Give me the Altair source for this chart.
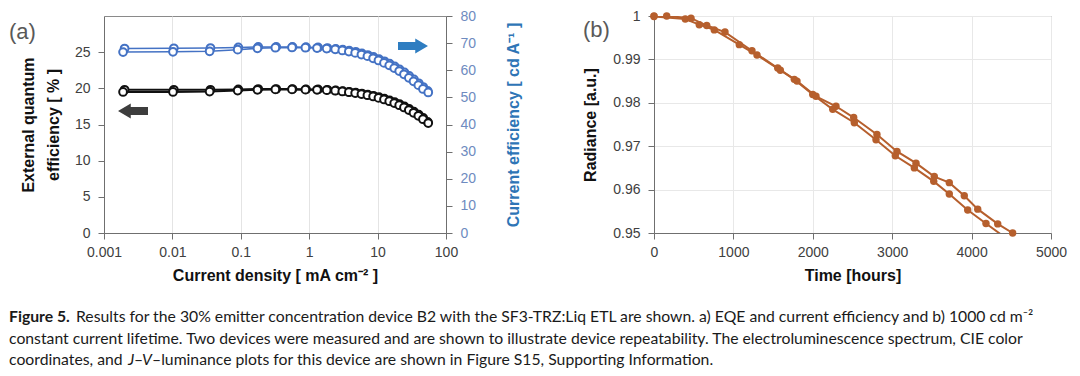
import altair as alt
import pandas as pd

# ---------------- Panel (a): EQE / current efficiency vs current density ----------------
J_DEV1 = [0.002, 0.0105, 0.036, 0.092, 0.18, 0.33, 0.57, 0.9, 1.35, 1.85, 2.45, 3.1, 3.85, 4.8,
          5.9, 7.2, 8.7, 10.5, 12.6, 15.0, 17.8, 21.0, 24.7, 29.0, 34.0, 40.0, 46.5, 54.0]
J_DEV2 = [0.0019, 0.0102, 0.035, 0.09, 0.175, 0.32, 0.56, 0.88, 1.3, 1.8, 2.4, 3.05, 3.8, 4.7,
          5.8, 7.1, 8.6, 10.3, 12.4, 14.8, 17.5, 20.7, 24.3, 28.6, 33.5, 39.4, 46.0, 55.0]
EQE_DEV1 = [19.8, 19.8, 19.8, 19.85, 19.9, 19.9, 19.9, 19.85, 19.85, 19.8, 19.72, 19.62, 19.52, 19.4,
            19.28, 19.13, 18.97, 18.78, 18.57, 18.33, 18.08, 17.8, 17.5, 17.15, 16.78, 16.35, 15.9, 15.35]
EQE_DEV2 = [19.5, 19.5, 19.55, 19.7, 19.8, 19.85, 19.85, 19.82, 19.8, 19.75, 19.67, 19.57, 19.46, 19.34,
            19.2, 19.05, 18.88, 18.68, 18.46, 18.22, 17.96, 17.67, 17.36, 17.0, 16.62, 16.2, 15.73, 15.2]
CE_DEV1 = [68.0, 68.1, 68.2, 68.4, 68.6, 68.6, 68.6, 68.5, 68.4, 68.2, 67.9, 67.6, 67.2, 66.8,
           66.2, 65.6, 64.9, 64.1, 63.3, 62.4, 61.4, 60.3, 59.2, 57.9, 56.6, 55.2, 53.8, 52.4]
CE_DEV2 = [66.7, 66.8, 67.0, 67.6, 68.1, 68.3, 68.4, 68.3, 68.2, 68.0, 67.7, 67.3, 66.9, 66.4,
           65.8, 65.2, 64.4, 63.6, 62.7, 61.8, 60.8, 59.7, 58.5, 57.2, 55.9, 54.5, 53.1, 51.8]

X_TICKS_A = [0.001, 0.01, 0.1, 1, 10, 100]
EQE_TICKS = [0, 5, 10, 15, 20, 25]
CE_TICKS = [0, 10, 20, 30, 40, 50, 60, 70, 80]

# ---------------- Panel (b): lifetime ----------------
T_DEV_A = [0, 160, 466, 664, 894, 1234, 1558, 1801, 2040, 2292, 2515, 2808, 3060, 3300, 3530,
           3719, 3908, 4077, 4329, 4517]
R_DEV_A = [1.0, 1.0, 0.9995, 0.9978, 0.9963, 0.9920, 0.9880, 0.9850, 0.9815, 0.9792, 0.9766, 0.9727,
           0.9688, 0.9661, 0.9630, 0.9616, 0.9586, 0.9555, 0.9521, 0.9500]
T_DEV_B = [0, 394, 570, 759, 1074, 1297, 1591, 1767, 1999, 2251, 2523, 2796, 3039, 3279, 3523,
           3719, 3951, 4181, 4420]
R_DEV_B = [0.9999, 0.9993, 0.9980, 0.9968, 0.9934, 0.9910, 0.9875, 0.9854, 0.9819, 0.9785, 0.9754,
           0.9715, 0.9678, 0.9650, 0.9619, 0.9590, 0.9553, 0.9522, 0.9490]
T_TICKS = [0, 1000, 2000, 3000, 4000, 5000]
R_TICKS = [0.95, 0.96, 0.97, 0.98, 0.99, 1.0]

FONT = "Liberation Sans"
CAP_FONT = "Lato"
BLACK = "#111111"
BLUE = "#4472C4"
BROWN = "#B65F2D"
H = 217

dfa = pd.concat([
    pd.DataFrame({"J": J_DEV1, "EQE": EQE_DEV1, "CE": CE_DEV1, "device": "Device 1"}),
    pd.DataFrame({"J": J_DEV2, "EQE": EQE_DEV2, "CE": CE_DEV2, "device": "Device 2"}),
], ignore_index=True)

dfb = pd.concat([
    pd.DataFrame({"t": T_DEV_A, "r": R_DEV_A, "device": "Device A"}),
    pd.DataFrame({"t": T_DEV_B, "r": R_DEV_B, "device": "Device B"}),
], ignore_index=True)

one = alt.Data(values=[{"k": 1}])

xa = alt.X("J:Q", scale=alt.Scale(type="log", domain=[0.001, 100]),
           axis=alt.Axis(values=X_TICKS_A, format="~g", title="Current density [ mA cm⁻² ]",
                         grid=True, gridColor="#e4e4e4", labelPadding=6, titlePadding=8,
                         labelFlush=False))
y_eqe = alt.Y("EQE:Q", scale=alt.Scale(domain=[0, 30], nice=False),
              axis=alt.Axis(values=EQE_TICKS, grid=False, orient="left",
                            title=["External quantum", "efficiency [ % ]"],
                            titleLineHeight=25, titlePadding=13))
y_ce = alt.Y("CE:Q", scale=alt.Scale(domain=[0, 80], nice=False),
             axis=alt.Axis(values=CE_TICKS, grid=False, orient="right",
                           title="Current efficiency [ cd A⁻¹ ]", titleColor="#2E75B6",
                           labelColor="#6E8BC0", titleAngle=270, titlePadding=46))

base_a = alt.Chart(dfa)
eqe_line = base_a.mark_line(color=BLACK, strokeWidth=2).encode(x=xa, y=y_eqe, detail="device:N")
eqe_pts = base_a.mark_circle(fill="white", stroke=BLACK, strokeWidth=2, size=60, opacity=1).encode(
    x=xa, y=y_eqe, detail="device:N")
ce_line = base_a.mark_line(color=BLUE, strokeWidth=1.5).encode(x=xa, y=y_ce, detail="device:N")
ce_pts = base_a.mark_circle(fill="white", stroke=BLUE, strokeWidth=2, size=60, opacity=1).encode(
    x=xa, y=y_ce, detail="device:N")

LEFT_ARROW = "M1,-0.27L-0.15,-0.27L-0.15,-0.5L-1,0L-0.15,0.5L-0.15,0.27L1,0.27Z"
RIGHT_ARROW = "M-1,-0.27L0.15,-0.27L0.15,-0.5L1,0L0.15,0.5L0.15,0.27L-1,0.27Z"
arrow_l = alt.Chart(one).mark_point(shape=LEFT_ARROW, filled=True, size=900, color="#3d3d3d",
                                    opacity=1).encode(x=alt.value(29), y=alt.value(95))
arrow_r = alt.Chart(one).mark_point(shape=RIGHT_ARROW, filled=True, size=900, color="#2E7DC1",
                                    opacity=1).encode(x=alt.value(309), y=alt.value(30))
label_a = alt.Chart(one).mark_text(text="(a)", font=FONT, fontSize=22, color="#595959",
                                   align="left", baseline="middle").encode(
    x=alt.value(-95), y=alt.value(16))

# ---------------- Caption (placed relative to panel (a)'s plot origin) ----------------
CAP_SIZE = 15.75
CAP_COLOR = "#1a1a1a"


def seg(text, x, y, weight="normal", style="normal"):
    return alt.Chart(one).mark_text(text=text, font=CAP_FONT, fontSize=CAP_SIZE, color=CAP_COLOR,
                                    fontWeight=weight, fontStyle=style, align="left",
                                    baseline="middle").encode(x=alt.value(x), y=alt.value(y))


CY1, CY2, CY3 = 301, 322.5, 344
caption = [
    seg("Figure 5.", -95, CY1, weight="bold"),
    seg("Results for the 30% emitter concentration device B2 with the SF3-TRZ:Liq ETL are shown. "
        "a) EQE and current efficiency and b) 1000 cd m⁻²", -28, CY1),
    seg("constant current lifetime. Two devices were measured and are shown to illustrate device "
        "repeatability. The electroluminescence spectrum, CIE color", -95, CY2),
    seg("coordinates, and", -95, CY3),
    seg("J", 24, CY3, style="italic"),
    seg("–", 30, CY3),
    seg("V", 38, CY3, style="italic"),
    seg("–luminance plots for this device are shown in Figure S15, Supporting Information.", 48, CY3),
]

panel_a = alt.layer(
    alt.layer(eqe_line, eqe_pts),
    alt.layer(ce_line, ce_pts),
    arrow_l, arrow_r, label_a, *caption,
).resolve_scale(y="independent").properties(width=342, height=H)

xb = alt.X("t:Q", scale=alt.Scale(domain=[0, 5000], nice=False),
           axis=alt.Axis(values=T_TICKS, format="d", title="Time [hours]", grid=True,
                         gridColor="#e8e8e8", labelPadding=6, titlePadding=8, labelFlush=False))
yb = alt.Y("r:Q", scale=alt.Scale(domain=[0.95, 1.0], nice=False, zero=False),
           axis=alt.Axis(values=R_TICKS, format="~g", title="Radiance [a.u.]", grid=True,
                         gridColor="#e8e8e8", titlePadding=14))
base_b = alt.Chart(dfb)
life_line = base_b.mark_line(color=BROWN, strokeWidth=2, clip=True).encode(x=xb, y=yb, detail="device:N")
life_pts = base_b.mark_circle(color=BROWN, size=55, opacity=1).encode(
    x=xb, y=yb, detail="device:N").transform_filter("datum.r >= 0.95")
label_b = alt.Chart(one).mark_text(text="(b)", font=FONT, fontSize=22, color="#595959",
                                   align="left", baseline="middle").encode(
    x=alt.value(-71), y=alt.value(14))
panel_b = alt.layer(life_line, life_pts, label_b).properties(width=397, height=H)

chart = alt.HConcatChart(hconcat=[panel_a, panel_b], spacing=208, bounds="flush").properties(
    padding=0, background="white"
).configure_view(
    stroke="#8a8a8a", strokeWidth=1
).configure_axis(
    labelFont=FONT, titleFont=FONT, labelFontSize=14, titleFontSize=16,
    labelColor="#404040", titleColor="#111111", titleFontWeight="bold",
    domainColor="#6f6f6f", tickColor="#6f6f6f", tickSize=6, labelPadding=8,
)

chart.save("out.html", embed_options={"renderer": "svg", "actions": False})
